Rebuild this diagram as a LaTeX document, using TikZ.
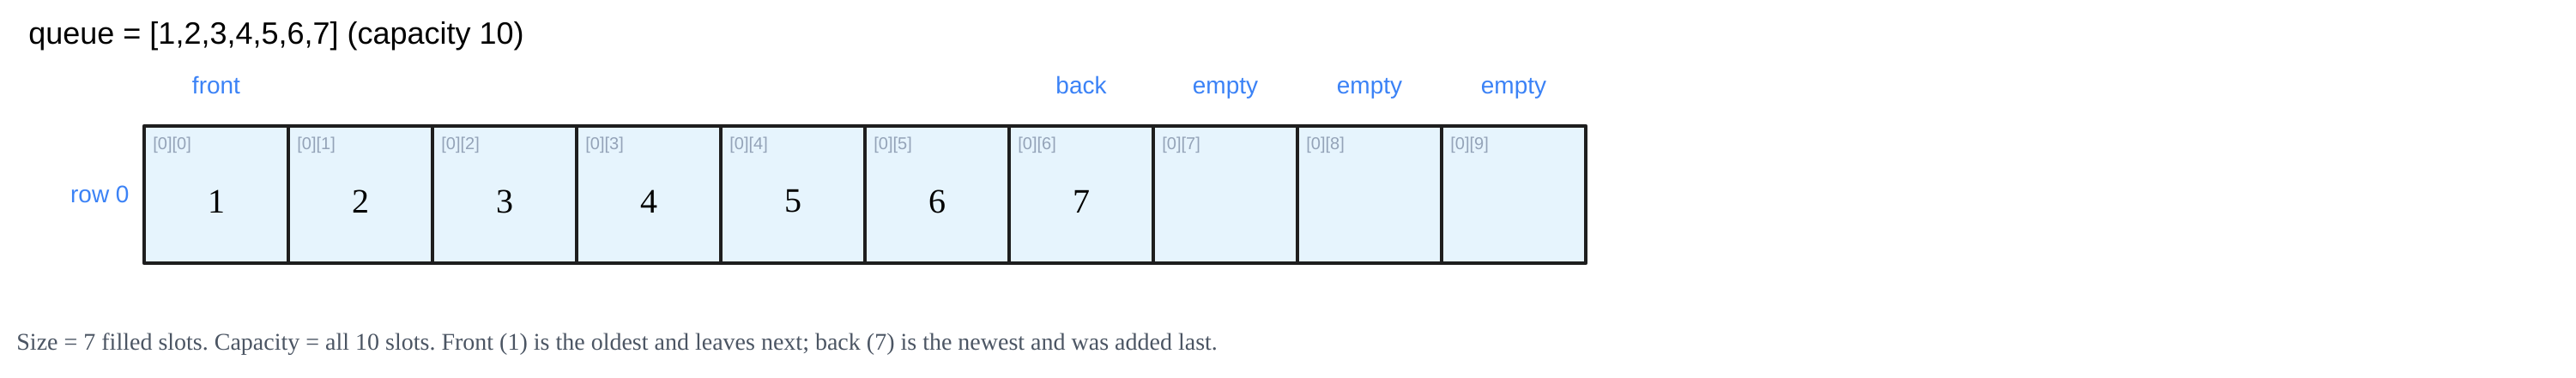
\documentclass[tikz,border=0pt]{standalone}
\usepackage{fontspec}
\setmainfont{Liberation Serif}
\setsansfont{Liberation Sans}
\usetikzlibrary{positioning}

\definecolor{slotfill}{HTML}{E6F4FD}
\definecolor{slotline}{HTML}{1E1E1E}
\definecolor{tagblue}{HTML}{3B82F6}
\definecolor{idxgray}{HTML}{94A3B8}
\definecolor{notegray}{HTML}{4B5563}

\begin{document}
\begin{tikzpicture}[
  node distance=0pt,
  every node/.style={inner sep=0pt},
  slot/.style={draw=slotline, fill=slotfill, line width=2.3pt, line join=round,
    minimum width=84pt, minimum height=80pt, outer sep=0pt},
  idx/.style={font=\sffamily\fontsize{10}{12}\selectfont, text=idxgray, anchor=north west},
  val/.style={font=\fontsize{20}{24}\selectfont},
  tag/.style={font=\sffamily\fontsize{14}{16}\selectfont, text=tagblue,
    text height=1.5ex, text depth=0pt},
  title/.style={font=\sffamily\fontsize{18}{22}\selectfont, anchor=west},
  note/.style={font=\fontsize{14}{17}\selectfont\frenchspacing, text=notegray, anchor=west}
]
\useasboundingbox (0,0) rectangle (1501pt,-220pt);

\node[title] (title) at (16.5pt,-21pt) {queue = [1,2,3,4,5,6,7] (capacity 10)};

\node[slot] (slot0) at (126pt,-113.5pt) {};
\node[slot, right=of slot0] (slot1) {};
\node[slot, right=of slot1] (slot2) {};
\node[slot, right=of slot2] (slot3) {};
\node[slot, right=of slot3] (slot4) {};
\node[slot, right=of slot4] (slot5) {};
\node[slot, right=of slot5] (slot6) {};
\node[slot, right=of slot6] (slot7) {};
\node[slot, right=of slot7] (slot8) {};
\node[slot, right=of slot8] (slot9) {};

\node[idx] (i0) at ([xshift=5pt, yshift=-6.5pt]slot0.north west) {[0][0]};
\node[idx] (i1) at ([xshift=5pt, yshift=-6.5pt]slot1.north west) {[0][1]};
\node[idx] (i2) at ([xshift=5pt, yshift=-6.5pt]slot2.north west) {[0][2]};
\node[idx] (i3) at ([xshift=5pt, yshift=-6.5pt]slot3.north west) {[0][3]};
\node[idx] (i4) at ([xshift=5pt, yshift=-6.5pt]slot4.north west) {[0][4]};
\node[idx] (i5) at ([xshift=5pt, yshift=-6.5pt]slot5.north west) {[0][5]};
\node[idx] (i6) at ([xshift=5pt, yshift=-6.5pt]slot6.north west) {[0][6]};
\node[idx] (i7) at ([xshift=5pt, yshift=-6.5pt]slot7.north west) {[0][7]};
\node[idx] (i8) at ([xshift=5pt, yshift=-6.5pt]slot8.north west) {[0][8]};
\node[idx] (i9) at ([xshift=5pt, yshift=-6.5pt]slot9.north west) {[0][9]};

\node[val] (v1) at ([yshift=-4pt]slot0.center) {1};
\node[val] (v2) at ([yshift=-4pt]slot1.center) {2};
\node[val] (v3) at ([yshift=-4pt]slot2.center) {3};
\node[val] (v4) at ([yshift=-4pt]slot3.center) {4};
\node[val] (v5) at ([yshift=-4pt]slot4.center) {5};
\node[val] (v6) at ([yshift=-4pt]slot5.center) {6};
\node[val] (v7) at ([yshift=-4pt]slot6.center) {7};

\node[tag, above=18.5pt of slot0] (front) {front};
\node[tag, above=18.5pt of slot6] (back) {back};
\node[tag, above=18.5pt of slot7] (empty7) {empty};
\node[tag, above=18.5pt of slot8] (empty8) {empty};
\node[tag, above=18.5pt of slot9] (empty9) {empty};

\node[tag, left=8.5pt of slot0, text height=, text depth=] (row) {row 0};

\node[note] (note) at (9.5pt,-201pt) {Size = 7 filled slots. Capacity = all 10 slots. Front (1) is the oldest and leaves next; back (7) is the newest and was added last.};

\end{tikzpicture}
\end{document}
